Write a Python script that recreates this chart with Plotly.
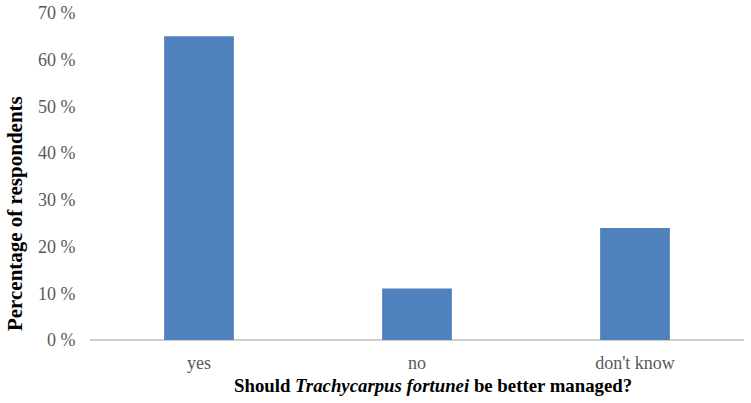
import plotly.graph_objects as go

# Données
categories = ["yes", "no", "don't know"]
pourcentages = [65, 11, 24]
graduations = [0, 10, 20, 30, 40, 50, 60, 70]
etiquettes = [f"{g} %" for g in graduations]

fig = go.Figure()

fig.add_trace(go.Bar(
    x=categories,
    y=pourcentages,
    marker=dict(color="#4f81bd", line=dict(width=0)),
    showlegend=False
))

fig.update_layout(
    width=751,
    height=403,
    margin=dict(l=90, r=7, t=13, b=63, autoexpand=False),
    plot_bgcolor="white",
    paper_bgcolor="white",
    bargap=0.68,
    font=dict(family="Liberation Serif, Times New Roman, serif", color="#595959"),
    xaxis=dict(
        showgrid=False,
        showline=False,
        tickfont=dict(size=18, color="#595959"),
        ticks="outside",
        ticklen=6,
        tickcolor="white",
        automargin=False
    ),
    yaxis=dict(
        range=[0, 70],
        tickvals=graduations,
        ticktext=etiquettes,
        showgrid=False,
        zeroline=True,
        zerolinecolor="#d0d0d0",
        zerolinewidth=1.5,
        tickfont=dict(size=18, color="#595959"),
        ticks="outside",
        ticklen=10,
        tickcolor="white",
        automargin=False
    )
)

# Titres des axes placés en annotations (légèrement décentrés comme dans l'original)
fig.add_annotation(
    text="<b>Percentage of respondents</b>",
    xref="paper", yref="paper",
    x=0, y=0.385,
    xshift=-75,
    xanchor="center", yanchor="middle",
    textangle=-90,
    showarrow=False,
    font=dict(size=21, color="black")
)
fig.add_annotation(
    text="<b>Should <i>Trachycarpus fortunei</i> be better managed?</b>",
    xref="paper", yref="paper",
    x=0.525, y=0,
    yshift=-45,
    xanchor="center", yanchor="middle",
    showarrow=False,
    font=dict(size=18.8, color="black")
)

# Supprime la marge par défaut de la page pour que la figure occupe toute la fenêtre
fig.write_html("out.html", config={"displayModeBar": False},
               post_script="document.body.style.margin='0';")
